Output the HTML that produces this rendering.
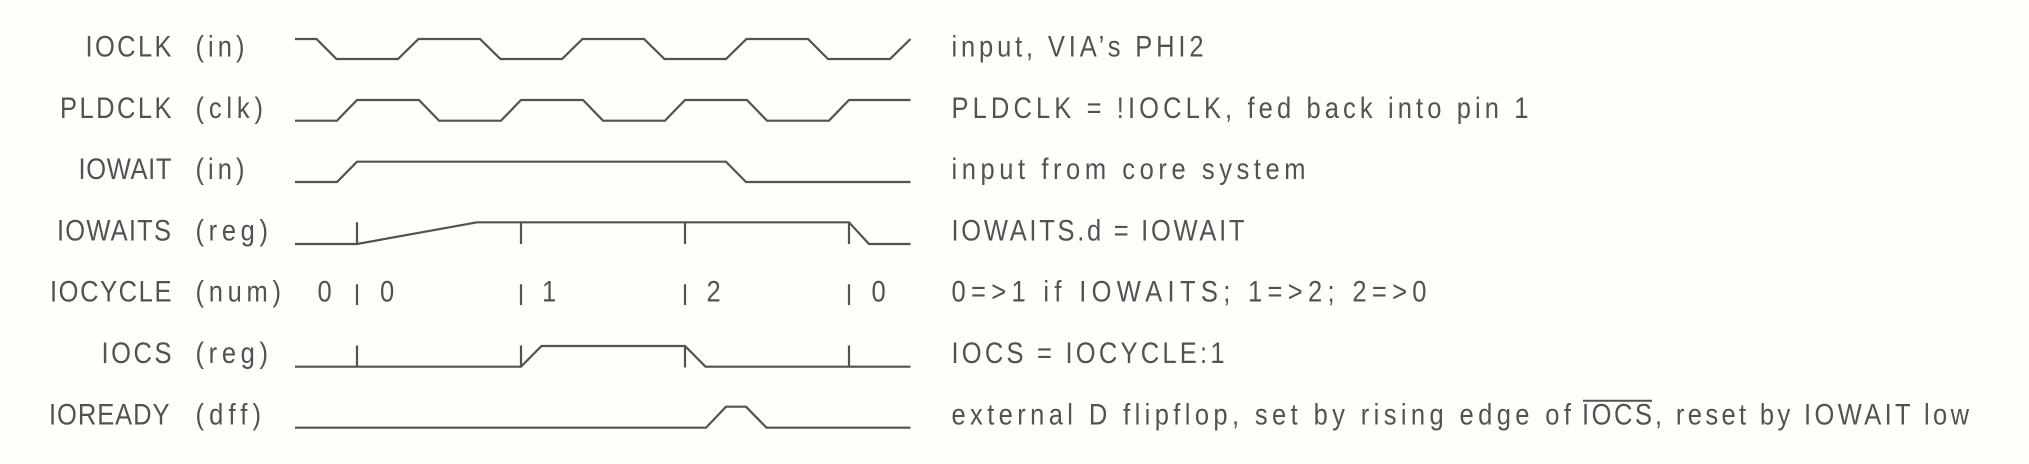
<!DOCTYPE html>
<html>
<head>
<meta charset="utf-8">
<style>
  html, body { margin: 0; padding: 0; background: #fefefa; }
  body { width: 2029px; height: 464px; overflow: hidden; }
  svg { display: block; }
  text { font-family: "Liberation Sans", "DejaVu Sans", sans-serif; font-size: 30px; fill: #525252; }
  .w { fill: none; stroke: #525252; stroke-width: 2.2; stroke-linejoin: miter; stroke-linecap: butt; }
</style>
</head>
<body>
<svg width="2029" height="464" viewBox="0 0 2029 464" xmlns="http://www.w3.org/2000/svg">
  <rect x="0" y="0" width="2029" height="464" fill="#fefefa"/>

  <!-- Left signal names -->
  <text transform="translate(85.5 56.5) scale(0.85 1)" textLength="101.2" lengthAdjust="spacing">IOCLK</text>
  <text transform="translate(60 117.8) scale(0.85 1)" textLength="131.2" lengthAdjust="spacing">PLDCLK</text>
  <text transform="translate(78.5 179.1) scale(0.85 1)" textLength="109.4" lengthAdjust="spacing">IOWAIT</text>
  <text transform="translate(57 240.4) scale(0.85 1)" textLength="134.1" lengthAdjust="spacing">IOWAITS</text>
  <text transform="translate(50 301.7) scale(0.85 1)" textLength="142.9" lengthAdjust="spacing">IOCYCLE</text>
  <text transform="translate(101.5 363) scale(0.85 1)" textLength="82.4" lengthAdjust="spacing">IOCS</text>
  <text transform="translate(49 424.3) scale(0.85 1)" textLength="141.8" lengthAdjust="spacing">IOREADY</text>

  <!-- Types -->
  <text transform="translate(195.5 56.5) scale(0.85 1)" textLength="57.6" lengthAdjust="spacing">(in)</text>
  <text transform="translate(195.5 117.8) scale(0.85 1)" textLength="79.4" lengthAdjust="spacing">(clk)</text>
  <text transform="translate(195.5 179.1) scale(0.85 1)" textLength="57.6" lengthAdjust="spacing">(in)</text>
  <text transform="translate(195.5 240.4) scale(0.85 1)" textLength="85.3" lengthAdjust="spacing">(reg)</text>
  <text transform="translate(195.5 301.7) scale(0.85 1)" textLength="100.6" lengthAdjust="spacing">(num)</text>
  <text transform="translate(195.5 363) scale(0.85 1)" textLength="85.3" lengthAdjust="spacing">(reg)</text>
  <text transform="translate(195.5 424.3) scale(0.85 1)" textLength="77.1" lengthAdjust="spacing">(dff)</text>

  <!-- IOCLK -->
  <path class="w" d="M295,39 L316.5,39 L336.5,59 L398,59 L418.5,39 L480,39 L500.5,59 L562,59 L582.5,39 L644,39 L664.5,59 L726,59 L746.5,39 L808,39 L828,59 L890,59 L910.5,39"/>
  <!-- PLDCLK -->
  <path class="w" d="M295,120.7 L337,120.7 L357,100 L419,100 L439,120.7 L501,120.7 L521,100 L583,100 L603,120.7 L665,120.7 L685,100 L747,100 L767,120.7 L829,120.7 L849,100 L910.5,100"/>
  <!-- IOWAIT -->
  <path class="w" d="M295,182 L337,182 L357,161.7 L726,161.7 L746,182 L910.5,182"/>
  <!-- IOWAITS -->
  <path class="w" d="M295,244 L357,244 L477,222.3 L849,222.3 L869,244 L910.5,244"/>
  <path class="w" d="M357,222.3 V244 M521,222.3 V244 M685,222.3 V244 M849,222.3 V244"/>
  <!-- IOCYCLE ticks -->
  <path class="w" d="M357,284.3 V305 M521,284.3 V305 M685,284.3 V305 M849,284.3 V305"/>
  <text transform="translate(317.5 301.7) scale(0.85 1)">0</text>
  <text transform="translate(380 301.7) scale(0.85 1)">0</text>
  <text transform="translate(542 301.7) scale(0.85 1)">1</text>
  <text transform="translate(706.5 301.7) scale(0.85 1)">2</text>
  <text transform="translate(871.5 301.7) scale(0.85 1)">0</text>
  <!-- IOCS -->
  <path class="w" d="M295,366.7 L521,366.7 L541.5,346 L685,346 L705.5,366.7 L910.5,366.7"/>
  <path class="w" d="M357,345.5 V366.7 M521,345.5 V366.7 M685,345.5 V367.5 M849,345.5 V366.7"/>
  <!-- IOREADY -->
  <path class="w" d="M295,427.7 L706,427.7 L726,406.7 L746,406.7 L766.5,427.7 L910.5,427.7"/>

  <!-- Right descriptions -->
  <text transform="translate(951.5 56.5) scale(0.85 1)" textLength="296.5" lengthAdjust="spacing">input, VIA’s PHI2</text>
  <text transform="translate(951.5 117.8) scale(0.85 1)" textLength="678.8" lengthAdjust="spacing">PLDCLK = !IOCLK, fed back into pin 1</text>
  <text transform="translate(951.5 179.1) scale(0.85 1)" textLength="416.5" lengthAdjust="spacing">input from core system</text>
  <text transform="translate(951.5 240.4) scale(0.85 1)" textLength="344.7" lengthAdjust="spacing">IOWAITS.d = IOWAIT</text>
  <text transform="translate(951.5 301.7) scale(0.85 1)" textLength="558.8" lengthAdjust="spacing">0=&gt;1 if IOWAITS; 1=&gt;2; 2=&gt;0</text>
  <text transform="translate(951.5 363) scale(0.85 1)" textLength="321.2" lengthAdjust="spacing">IOCS = IOCYCLE:1</text>
  <text transform="translate(951.5 424.3) scale(0.85 1)" textLength="728.8" lengthAdjust="spacing">external D flipflop, set by rising edge of</text>
  <text transform="translate(1582 424.3) scale(0.85 1)" textLength="82.4" lengthAdjust="spacing">IOCS</text>
  <line x1="1583" y1="400.7" x2="1652" y2="400.7" stroke="#525252" stroke-width="2"/>
  <text transform="translate(1655 424.3) scale(0.85 1)" textLength="369.4" lengthAdjust="spacing">, reset by IOWAIT low</text>
</svg>
</body>
</html>
